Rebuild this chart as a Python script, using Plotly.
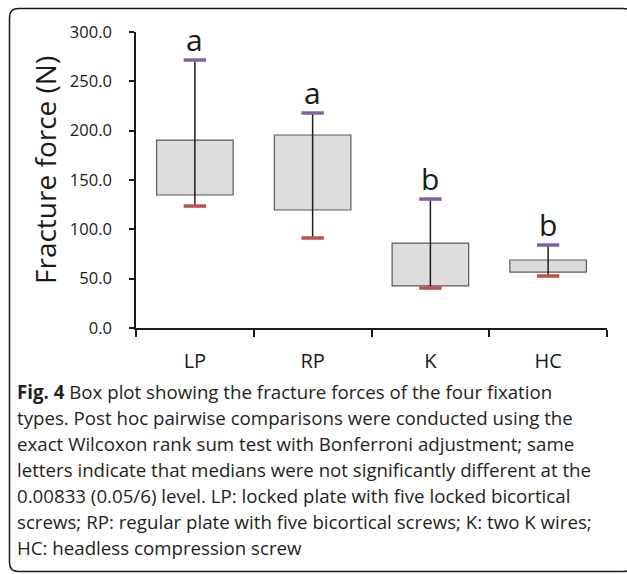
import plotly.graph_objects as go

# ---- data ----
categories = ["LP", "RP", "K", "HC"]
q1 = [134.8, 119.6, 42.6, 56.7]          # box bottom
q3 = [190.5, 195.6, 86.1, 68.9]          # box top
whisker_low = [123.6, 91.2, 40.5, 52.7]  # red cap
whisker_high = [271.6, 217.9, 130.7, 84.1]  # purple cap
letters = ["a", "a", "b", "b"]
y_ticks = [0, 50, 100, 150, 200, 250, 300]

caption_lines = [
    "<b>Fig. 4</b> Box plot showing the fracture forces of the four fixation",
    "types. Post hoc pairwise comparisons were conducted using the",
    "exact Wilcoxon rank sum test with Bonferroni adjustment; same",
    "letters indicate that medians were not significantly different at the",
    "0.00833 (0.05/6) level. LP: locked plate with five locked bicortical",
    "screws; RP: regular plate with five bicortical screws; K: two K wires;",
    "HC: headless compression screw",
]

W, H = 627, 574
L_M, R_M, T_M, B_M = 136, 20, 32, 246
PW = W - L_M - R_M
PH = H - T_M - B_M


def px(x):
    return (x - L_M) / PW


def py(y):
    return (H - B_M - y) / PH


FONT = "Open Sans"
CAP_FONT = "Open Sans"
TXT = "#1a1a1a"

fig = go.Figure()

fig.add_trace(go.Bar(
    x=categories,
    y=[b - a for a, b in zip(q1, q3)],
    base=q1,
    width=0.65,
    marker=dict(color="#dcdcdc", line=dict(color="#5a5a5a", width=1.2)),
    hoverinfo="skip",
))

vx, vy = [], []
for c, lo, hi in zip(categories, whisker_low, whisker_high):
    vx += [c, c, None]
    vy += [lo, hi, None]
fig.add_trace(go.Scatter(x=vx, y=vy, mode="lines",
                         line=dict(color="#1e1e1e", width=1.5), hoverinfo="skip"))

fig.add_trace(go.Scatter(x=categories, y=whisker_high, mode="markers",
                         marker=dict(symbol="line-ew", size=16,
                                     line=dict(color="#8064a2", width=3.5)),
                         hoverinfo="skip"))
fig.add_trace(go.Scatter(x=categories, y=whisker_low, mode="markers",
                         marker=dict(symbol="line-ew", size=16,
                                     line=dict(color="#c0504d", width=3.5)),
                         hoverinfo="skip"))

for c, hi, t in zip(categories, whisker_high, letters):
    fig.add_annotation(x=c, y=hi, text=t, showarrow=False, yanchor="bottom",
                       yshift=-2, font=dict(family=FONT, size=30, color=TXT))

# y-axis title
fig.add_annotation(xref="paper", yref="paper", x=px(45), y=py(170),
                   text="Fracture force (N)", textangle=-90, showarrow=False,
                   xanchor="center", yanchor="middle",
                   font=dict(family=FONT, size=28, color=TXT))

# caption
for i, line in enumerate(caption_lines):
    base = 401 + 26 * i
    fig.add_annotation(xref="paper", yref="paper", x=px(15), y=py(base + 5),
                       text=line, showarrow=False, xanchor="left", yanchor="bottom",
                       align="left", font=dict(family=CAP_FONT, size=18.7, color="#231f20"))

# rounded border
Lb, Tb, Rb, Bb, r = 9.5, 8.5, 632, 571.5, 9
path = (f"M {px(Lb + r)},{py(Tb)} L {px(Rb - r)},{py(Tb)} "
        f"Q {px(Rb)},{py(Tb)} {px(Rb)},{py(Tb + r)} L {px(Rb)},{py(Bb - r)} "
        f"Q {px(Rb)},{py(Bb)} {px(Rb - r)},{py(Bb)} L {px(Lb + r)},{py(Bb)} "
        f"Q {px(Lb)},{py(Bb)} {px(Lb)},{py(Bb - r)} L {px(Lb)},{py(Tb + r)} "
        f"Q {px(Lb)},{py(Tb)} {px(Lb + r)},{py(Tb)} Z")
fig.add_shape(type="path", xref="paper", yref="paper", path=path,
              line=dict(color="#1a1a1a", width=1.5), layer="above")

fig.update_layout(
    width=W, height=H,
    margin=dict(l=L_M, r=R_M, t=T_M, b=B_M, autoexpand=False),
    paper_bgcolor="white", plot_bgcolor="white",
    showlegend=False,
    font=dict(family=FONT, color=TXT),
)
fig.update_xaxes(
    type="category", range=[-0.5, 3.5], tickson="boundaries",
    ticks="outside", ticklen=7, tickwidth=1.5, tickcolor="#1a1a1a",
    showline=True, linecolor="#1a1a1a", linewidth=1.5,
    showgrid=False, zeroline=False, automargin=False,
    tickfont=dict(family=FONT, size=20, color=TXT), ticklabelstandoff=14,
)
fig.update_yaxes(
    range=[0, 300], tickvals=y_ticks, tickformat=".1f",
    ticks="outside", ticklen=5, tickwidth=1.5, tickcolor="#1a1a1a",
    showline=True, linecolor="#1a1a1a", linewidth=1.5,
    showgrid=False, zeroline=False, automargin=False,
    tickfont=dict(family=FONT, size=16.5, color=TXT), ticklabelstandoff=14,
)

fig.write_html("out.html", config={"responsive": False, "displayModeBar": False},
               post_script="document.body.style.margin='0';document.body.style.overflow='hidden';")
